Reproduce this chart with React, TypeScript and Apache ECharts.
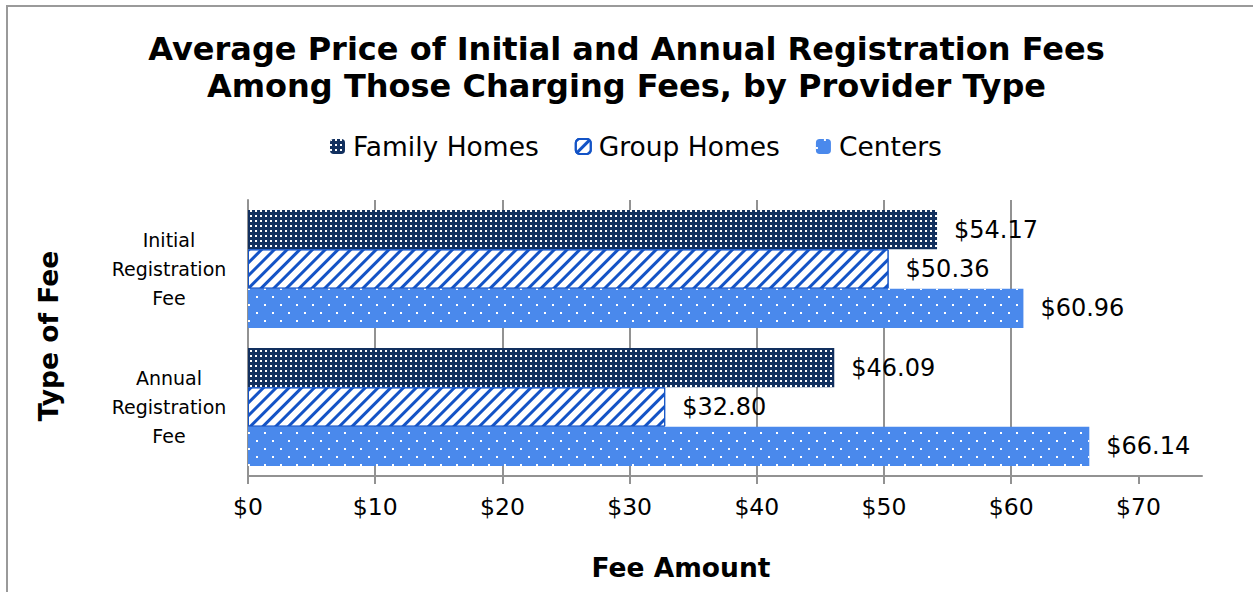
import React, { useEffect, useRef } from 'react';
import * as echarts from 'echarts';

const categories = ['Initial\nRegistration\nFee', 'Annual\nRegistration\nFee'];
const seriesNames = ['Family Homes', 'Group Homes', 'Centers'];
const familyHomes = [54.17, 46.09];
const groupHomes = [50.36, 32.8];
const centers = [60.96, 66.14];
const xTicks = [0, 10, 20, 30, 40, 50, 60, 70];

const FONT = 'Verdana, "DejaVu Sans", sans-serif';
const GRID_COLOR = '#929292';

export default function App() {
  const ref = useRef<HTMLDivElement>(null);
  useEffect(() => {
    if (!ref.current) return;
    const chart = echarts.init(ref.current, undefined, { renderer: 'svg' });
    const labelCfg = {
      show: true,
      position: 'right',
      distance: 17,
      fontFamily: FONT,
      fontSize: 24,
      color: '#000',
      formatter: (p: any) => '$' + Number(p.value).toFixed(2),
    };
    chart.setOption({
      animation: false,
      textStyle: { fontFamily: FONT },
      title: {
        text: 'Average Price of Initial and Annual Registration Fees\nAmong Those Charging Fees, by Provider Type',
        left: 'center',
        top: 25,
        padding: [5, 0, 5, 6],
        textStyle: { fontFamily: FONT, fontSize: 32, fontWeight: 'bold', color: '#000', lineHeight: 37 },
      },
      legend: {
        top: 128,
        left: 330,
        padding: [5, 0, 5, 0],
        itemWidth: 15,
        itemHeight: 15,
        itemGap: 36,
        textStyle: { fontFamily: FONT, fontSize: 26.5, color: '#000', padding: [0, 0, 0, 3] },
        data: seriesNames,
      },
      graphic: [
        {
          type: 'rect',
          shape: { x: 7, y: 6, width: 1400, height: 800 },
          style: { fill: 'none', stroke: '#9a9a9a', lineWidth: 2 },
          silent: true,
        },
      ],
      grid: { left: 248, top: 200, right: 51, bottom: 116, containLabel: false },
      xAxis: {
        type: 'value',
        min: 0,
        max: 75,
        interval: 10,
        axisLine: { show: true, lineStyle: { color: GRID_COLOR, width: 2 } },
        axisTick: { show: true, length: 8, customValues: xTicks, lineStyle: { color: GRID_COLOR, width: 2 } },
        axisLabel: {
          customValues: xTicks,
          formatter: (v: number) => '$' + v,
          fontFamily: FONT,
          fontSize: 23.5,
          color: '#000',
          margin: 19,
        },
        splitLine: { show: true, showMaxLine: false, lineStyle: { color: GRID_COLOR, width: 2 } },
        name: 'Fee Amount',
        nameLocation: 'middle',
        nameGap: 78,
        nameTextStyle: { fontFamily: FONT, fontSize: 26.5, fontWeight: 'bold', color: '#000', padding: [0, 88, 0, 0] },
      },
      yAxis: {
        type: 'category',
        data: categories,
        inverse: true,
        axisLine: { show: true, lineStyle: { color: GRID_COLOR, width: 2 } },
        axisTick: { show: false },
        axisLabel: {
          align: 'center',
          margin: 79,
          fontFamily: FONT,
          fontSize: 19,
          lineHeight: 29,
          color: '#000',
        },
        name: 'Type of Fee',
        nameLocation: 'middle',
        nameRotate: 90,
        nameGap: 186,
        nameTextStyle: { fontFamily: FONT, fontSize: 26.5, fontWeight: 'bold', color: '#000', padding: [0, 0, 0, 4] },
      },
      series: [
        {
          name: seriesNames[0],
          type: 'bar',
          data: familyHomes,
          barGap: '0%',
          barCategoryGap: '14.5%',
          itemStyle: {
            color: '#12305f',
            decal: { symbol: 'rect', symbolSize: 1, color: '#ffffff', dashArrayX: [2, 3], dashArrayY: [2, 3] },
          },
          label: labelCfg,
        },
        {
          name: seriesNames[1],
          type: 'bar',
          data: groupHomes,
          barGap: '0%',
          barCategoryGap: '14.5%',
          itemStyle: {
            color: '#ffffff',
            borderColor: '#1353c6',
            borderWidth: 1,
            decal: {
              symbol: 'rect',
              symbolSize: 1,
              color: '#1353c6',
              dashArrayX: [1, 0],
              dashArrayY: [3, 6],
              rotation: -Math.PI / 4,
            },
          },
          label: labelCfg,
        },
        {
          name: seriesNames[2],
          type: 'bar',
          data: centers,
          barGap: '0%',
          barCategoryGap: '14.5%',
          itemStyle: {
            color: '#4a89ec',
            decal: {
              symbol: 'rect',
              symbolSize: 1,
              color: '#ffffff',
              dashArrayX: [[2, 14], [0, 8, 2, 6]],
              dashArrayY: [2, 6],
            },
          },
          label: labelCfg,
        },
      ],
    });
    return () => chart.dispose();
  }, []);
  return (
    <div style={{ position: 'absolute', left: 0, top: 0, width: 1253, height: 592, background: '#fff' }}>
      <div ref={ref} style={{ width: 1253, height: 592 }} />
    </div>
  );
}
